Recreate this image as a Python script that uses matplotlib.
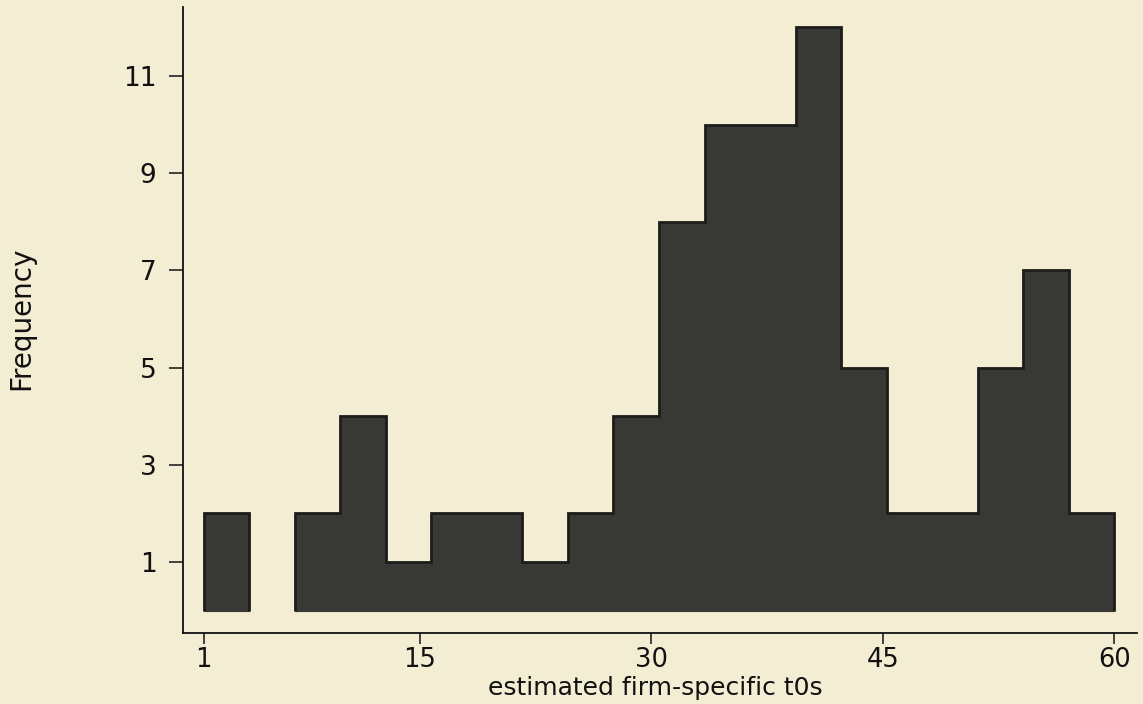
import numpy as np
import matplotlib
matplotlib.use("Agg")
import matplotlib.pyplot as plt

# histogram of estimated firm-specific t0s (20 bins from 1 to 60)
bin_lo = 1
bin_hi = 60
counts = [2, 0, 2, 4, 1, 2, 2, 1, 2, 4, 8, 10, 10, 12, 5, 2, 2, 5, 7, 2]
xticks = [1, 15, 30, 45, 60]
yticks = [1, 3, 5, 7, 9, 11]

bg = '#f3edd4'
plt.rcParams['font.family'] = ['DejaVu Sans']

fig = plt.figure(figsize=(11.43, 7.04), dpi=100, facecolor=bg)
ax = fig.add_axes([0.160, 0.101, 0.835, 0.889], facecolor=bg)

edges = np.linspace(bin_lo, bin_hi, len(counts) + 1)
ax.bar(edges[:-1], counts, width=np.diff(edges), align='edge',
       color='#383834', edgecolor='#383834',
       linewidth=[0.8 if c > 0 else 0 for c in counts])

# outline each run of non-empty bins
start = None
for i, c in enumerate(counts + [0]):
    if c > 0 and start is None:
        start = i
    elif c == 0 and start is not None:
        ax.stairs(counts[start:i], edges[start:i + 1], baseline=0,
                  color='#1c1c1a', linewidth=2.0)
        start = None

ax.set_xlim(-0.36, 61.5)
ax.set_ylim(-0.46, 12.42)
ax.set_xticks(xticks)
ax.set_yticks(yticks)

for s in ['top', 'right']:
    ax.spines[s].set_visible(False)
for s in ['left', 'bottom']:
    ax.spines[s].set_linewidth(1.3)
    ax.spines[s].set_color('#111111')

ax.tick_params(axis='y', length=10, width=1.1, pad=9, labelsize=19, colors='#111111')
ax.tick_params(axis='x', length=8, width=1.1, pad=2, labelsize=18.5, colors='#111111')

ax.set_xlabel('estimated firm-specific t0s', fontsize=18, color='#111111')
ax.set_ylabel('Frequency', fontsize=20, color='#111111')
ax.xaxis.set_label_coords(0.495, -0.069)
ax.yaxis.set_label_coords(-0.155, 0.503)

fig.savefig('out.png', dpi=100, facecolor=bg)
